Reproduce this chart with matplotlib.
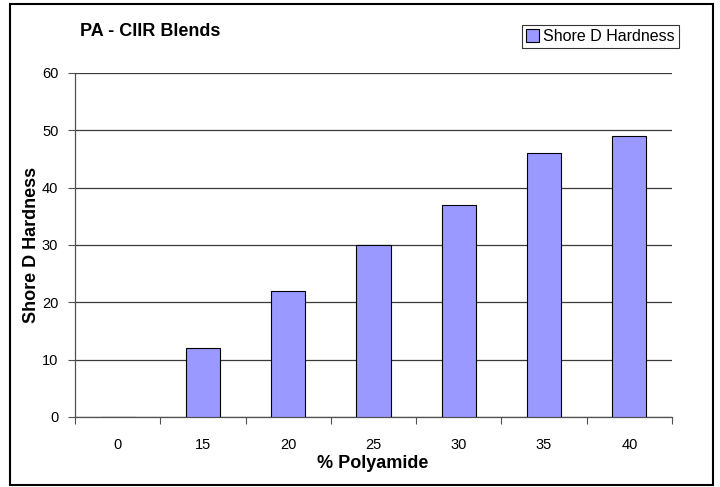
import numpy as np
import matplotlib.pyplot as plt
from matplotlib.patches import Rectangle

plt.rcParams['font.family'] = ['Liberation Sans', 'DejaVu Sans']

# Daten
polyamide = ['0', '15', '20', '25', '30', '35', '40']
hardness = [0, 12, 22, 30, 37, 46, 49]

fig = plt.figure(figsize=(7.2, 4.87), dpi=100)
ax = fig.add_axes([75 / 720, 1 - 417 / 487, (672 - 75) / 720, (417 - 73) / 487])

x = np.arange(len(polyamide))
ax.bar(x, hardness, width=0.4, color='#9999FF', edgecolor='black', linewidth=0.8,
       label='Shore D Hardness', zorder=3)

ax.set_xlim(-0.5, len(polyamide) - 0.5)
ax.set_ylim(0, 60)
ax.set_yticks(range(0, 61, 10))
ax.yaxis.grid(True, color='#3a3a3a', linewidth=0.9, zorder=0)

# Ticks an Kategoriegrenzen, Labels in der Mitte
ax.set_xticks(np.arange(-0.5, len(polyamide), 1.0))
ax.set_xticklabels([])
ax.set_xticks(x, minor=True)
ax.set_xticklabels(polyamide, minor=True)
ax.tick_params(axis='x', which='major', length=5, color='#505050', direction='out')
ax.tick_params(axis='x', which='minor', length=0, pad=15, labelsize=10.5)
ax.tick_params(axis='y', length=5, color='#505050', labelsize=10.5, pad=7)

for side in ['top', 'right']:
    ax.spines[side].set_visible(False)
for side in ['left', 'bottom']:
    ax.spines[side].set_color('#505050')
    ax.spines[side].set_linewidth(0.9)

fig.text(32 / 720, 1 - 245 / 487, 'Shore D Hardness', rotation=90, fontsize=13,
         fontweight='bold', ha='center', va='center')
fig.text(373 / 720, 1 - 464 / 487, '% Polyamide', fontsize=13,
         fontweight='bold', ha='center', va='center')
fig.text(80 / 720, 1 - 32 / 487, 'PA - CIIR Blends', fontsize=13,
         fontweight='bold', ha='left', va='center')

leg = fig.legend(loc='upper right', bbox_to_anchor=(679 / 720, 1 - 25 / 487),
                 fontsize=11.5, frameon=True, fancybox=False, handlelength=0.8,
                 handleheight=0.8, handletextpad=0.3, borderpad=0.25, borderaxespad=0)
leg.get_frame().set_edgecolor('black')
leg.get_frame().set_linewidth(0.8)

# Rahmen um das ganze Diagramm
fig.patches.append(Rectangle((10 / 720, 2 / 487), 703 / 720, 481 / 487,
                             transform=fig.transFigure, fill=False,
                             edgecolor='black', linewidth=1.5))

fig.savefig('out.png', dpi=100)
